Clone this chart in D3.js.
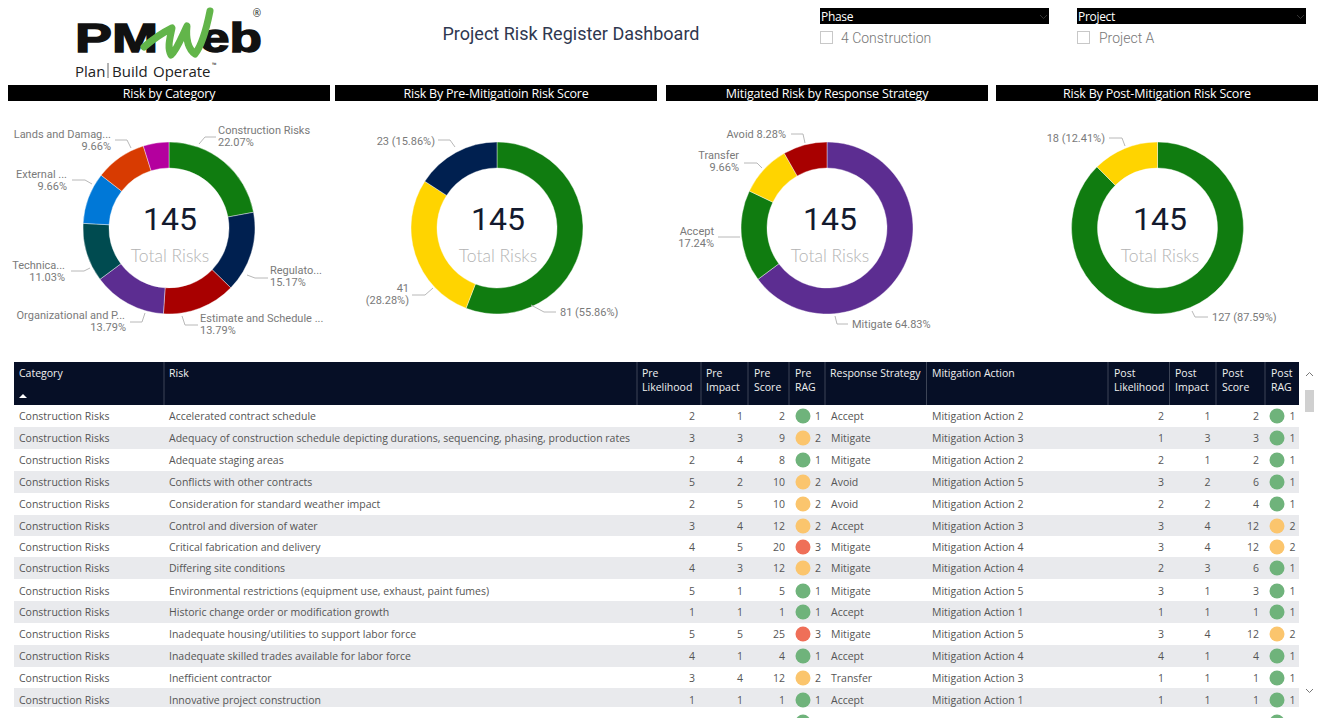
<!DOCTYPE html>
<html><head><meta charset="utf-8"><title>Project Risk Register Dashboard</title>
<script src="https://cdn.jsdelivr.net/npm/d3@7/dist/d3.min.js"></script>
<style>html,body{margin:0;padding:0;background:#fff;overflow:hidden}svg{display:block}</style>
</head><body><div id="chart"></div>
<script>
// ---------- chart data ----------
const categoryNames = ["Construction Risks","Regulatory","Estimate and Schedule","Organizational and Project","Technical","External","Lands and Damages","Other"];
const categoryCounts = [32,22,20,20,16,14,14,7];
const preScoreNames = ["1","2","3"];
const preScoreCounts = [81,41,23];
const strategyNames = ["Mitigate","Accept","Transfer","Avoid"];
const strategyCounts = [94,25,14,12];
const postScoreNames = ["1","2"];
const postScoreCounts = [127,18];

const rowCategory = Array(14).fill("Construction Risks");
const rowRisk = ["Accelerated contract schedule","Adequacy of construction schedule depicting durations, sequencing, phasing, production rates","Adequate staging areas","Conflicts with other contracts","Consideration for standard weather impact","Control and diversion of water","Critical fabrication and delivery","Differing site conditions","Environmental restrictions (equipment use, exhaust, paint fumes)","Historic change order or modification growth","Inadequate housing/utilities to support labor force","Inadequate skilled trades available for labor force","Inefficient contractor","Innovative project construction"];
const preLikelihood = [2,3,2,5,2,3,4,4,5,1,5,4,3,1];
const preImpact = [1,3,4,2,5,4,5,3,1,1,5,1,4,1];
const preScore = [2,9,8,10,10,12,20,12,5,1,25,4,12,1];
const preRag = [1,2,1,2,2,2,3,2,1,1,3,1,2,1];
const responseStrategy = ["Accept","Mitigate","Mitigate","Avoid","Avoid","Accept","Mitigate","Mitigate","Mitigate","Accept","Mitigate","Accept","Transfer","Accept"];
const mitigationAction = [2,3,2,5,2,3,4,4,5,1,5,4,3,1].map(n=>"Mitigation Action "+n);
const postLikelihood = [2,1,2,3,2,3,3,2,3,1,3,4,1,1];
const postImpact = [1,3,1,2,2,4,4,3,1,1,4,1,1,1];
const postScore = [2,3,2,6,4,12,12,6,3,1,12,4,1,1];
const postRag = [1,1,1,1,1,2,2,1,1,1,2,1,1,1];
// first row below the fold: only the tops of its two status dots are visible
const nextRowPreRag = 1, nextRowPostRag = 1;

const headers = [["Category"],["Risk"],["Pre","Likelihood"],["Pre","Impact"],["Pre","Score"],["Pre","RAG"],["Response Strategy"],["Mitigation Action"],["Post","Likelihood"],["Post","Impact"],["Post","Score"],["Post","RAG"]];
const totalLabel = "Total Risks";
const panelTitles = ["Risk by Category","Risk By Pre-Mitigatioin Risk Score","Mitigated Risk by Response Strategy","Risk By Post-Mitigation Risk Score"];

// ---------- layout ----------
const W=1320,H=718;
const FONT_UI='"Open Sans","Noto Sans",sans-serif', FONT_D='Roboto,"Noto Sans",sans-serif';
const svg=d3.select("#chart").append("svg").attr("width",W).attr("height",H).attr("viewBox",`0 0 ${W} ${H}`);
const txt=(g,x,y,s,o={})=>g.append("text").attr("x",x).attr("y",y).attr("text-anchor",o.a||"start").attr("dominant-baseline","central")
  .attr("font-family",o.f||FONT_UI).attr("font-size",o.s||11).attr("font-weight",o.w||400).attr("fill",o.c||"#666")
  .attr("letter-spacing",o.ls||null).text(s);

// logo
const logo=svg.append("g").attr("class","logo");
const bigT=(x,s,len)=>logo.append("text").attr("x",x).attr("y",52).attr("font-family","Liberation Sans").attr("font-weight",700)
  .attr("font-size",40).attr("fill","#111").attr("stroke","#111").attr("stroke-width",1.4).attr("textLength",len).attr("lengthAdjust","spacingAndGlyphs").text(s);
bigT(75,"PM",83); bigT(200,"eb",62);
logo.append("path").attr("d","M144 47 C152 40 162 33 172 28 C170 38 167 48 171 55 C177 50 182 36 187 26 C186 36 187 48 195 54 C203 44 207 26 210 11")
  .attr("fill","none").attr("stroke","#62b54a").attr("stroke-width",7).attr("stroke-linejoin","round").attr("stroke-linecap","round");
txt(logo,75,71,"Plan",{s:15,c:"#222",f:FONT_UI});
logo.append("line").attr("x1",108).attr("x2",108).attr("y1",63).attr("y2",78).attr("stroke","#666");
txt(logo,112,71,"Build",{s:15,c:"#222"});
txt(logo,153,71,"Operate",{s:15,c:"#222"});
txt(logo,212,65,"™",{s:6,c:"#222"});
txt(logo,257,13,"®",{s:10,c:"#222",a:"middle"});

txt(svg,571,33,"Project Risk Register Dashboard",{a:"middle",s:18,c:"#2f3850",f:FONT_D,w:400});

// slicers
const slicerTitles=["Phase","Project"], slicerValues=["4 Construction","Project A"];
[[820,229,841],[1077,229,1099]].forEach(([x,w,tx],i)=>{
  svg.append("rect").attr("x",x).attr("y",8).attr("width",w).attr("height",16).attr("fill","#000");
  txt(svg,x+1,16.5,slicerTitles[i],{c:"#fff",s:12,ls:-.3});
  svg.append("path").attr("d",`M${x+w-9} 15l3.5 3.5l3.5-3.5`).attr("fill","none").attr("stroke","#333");
  svg.append("rect").attr("x",x+.5).attr("y",31.5).attr("width",12).attr("height",12).attr("fill","#fff").attr("stroke","#c8c8c8");
  txt(svg,tx,38,slicerValues[i],{s:14,c:"#777",f:FONT_D,w:300});
});

// panel title bars
[[8,322],[335,322],[666,322],[996,322]].forEach(([x,w],i)=>{
  svg.append("rect").attr("x",x).attr("y",85).attr("width",w).attr("height",16).attr("fill","#000");
  txt(svg,x+w/2,93.5,panelTitles[i],{a:"middle",c:"#fff",s:12.5,ls:-.2});
});

// donuts
const colCategory=["#107c10","#002050","#a80000","#5c2d91","#004b50","#0078d7","#d83b01","#b4009e"];
const colScore=["#107c10","#ffd400","#002050"];
const colStrategy=["#5c2d91","#107c10","#ffd400","#a80000"];
const colPost=["#107c10","#ffd400"];
const pct=v=>(v/145*100).toFixed(2)+"%";

const donuts=[
 {cx:169,tx:170,names:categoryNames,vals:categoryCounts,cols:colCategory,labels:[
  {l:["Construction Risks",pct(32)],x:218,y:130,a:"start",p:[[199,144],[205,137],[216,137]]},
  {l:["Regulato...",pct(22)],x:270,y:270,a:"start",p:[[247,275],[255,278],[268,278]]},
  {l:["Estimate and Schedule ...",pct(20)],x:200,y:318,a:"start",p:[[182,316],[185,325],[198,325]]},
  {l:["Organizational and P...",pct(20)],x:125,y:315,x2:126,a:"end",p:[[145,313],[142,322],[130,322]]},
  {l:["Technica...",pct(16)],x:65,y:265,a:"end",p:[[90,268],[84,271],[71,271]]},
  {l:["External ...",pct(14)],x:67,y:174,a:"end",p:[[92,184],[85,180],[72,180]]},
  {l:["Lands and Damag...",pct(14)],x:111,y:134,a:"end",p:[[131,148],[127,140],[115,140]]}]},
 {cx:497,tx:498,names:preScoreNames,vals:preScoreCounts,cols:colScore,labels:[
  {l:["81 (55.86%)"],x:560,y:312,a:"start",p:[[531,305],[544,312],[556,312]]},
  {l:["41","(28.28%)"],x:409,y:288,a:"end",p:[[433,288],[425,295],[412,295]]},
  {l:["23 (15.86%)"],x:435,y:141,a:"end",p:[[455,147],[450,140],[438,140]]}]},
 {cx:827,tx:830,names:strategyNames,vals:strategyCounts,cols:colStrategy,labels:[
  {l:["Mitigate 64.83%"],x:852,y:324,a:"start",p:[[835,316],[837,324],[848,324]]},
  {l:["Accept","17.24%"],x:714,y:231,a:"end",p:[[740,237],[728,237],[718,237]]},
  {l:["Transfer","9.66%"],x:739,y:155,a:"end",p:[[762,168],[757,163],[744,163]]},
  {l:["Avoid 8.28%"],x:786,y:134,a:"end",p:[[805,143],[803,134],[791,134]]}]},
 {cx:1157.5,tx:1160,names:postScoreNames,vals:postScoreCounts,cols:colPost,labels:[
  {l:["127 (87.59%)"],x:1212,y:317,a:"start",p:[[1192,311],[1195,317],[1208,317]]},
  {l:["18 (12.41%)"],x:1105,y:138,a:"end",p:[[1125,146],[1122,138],[1109,138]]}]}
];
const CY=228,RO=86,RI=60;
const arc=d3.arc().innerRadius(RI).outerRadius(RO);
const pie=d3.pie().sort(null);
const leader=d3.line();
donuts.forEach(d=>{
  const g=svg.append("g").attr("transform",`translate(${d.cx},${CY})`);
  const color=d3.scaleOrdinal().domain(d.names).range(d.cols);
  g.selectAll("path").data(pie(d.vals)).join("path").attr("d",arc)
    .attr("fill",(p,i)=>color(d.names[i])).attr("stroke","#fff").attr("stroke-width",.4);
  d.labels.forEach(L=>{
    svg.append("path").attr("d",leader(L.p)).attr("fill","none").attr("stroke","#b8b8b8").attr("stroke-width",1);
    L.l.forEach((s,i)=>txt(svg,(i&&L.x2)||L.x,L.y+i*12.5,s,{a:L.a,s:11,c:"#7a7a7a",f:FONT_D}));
  });
  txt(svg,d.tx,CY-9,String(d3.sum(d.vals)),{a:"middle",s:32,c:"#131a2e",f:FONT_D,w:400});
  txt(svg,d.tx,CY+27,totalLabel,{a:"middle",s:17.5,c:"#b3b3b3",f:"Lato,Roboto,sans-serif",w:300});
});

// table
const colEdges=[14,164,637,701,748,789,825,926.5,1108,1169.5,1216,1265,1299];
const headX=[19,169,642,706,754,795,830,932,1114,1175,1222,1271];
const rowTops=[405,427,449,471,493,515,536,557,579,601,623,645,667,688,707];
const rowCenters=[416,438,460,482,504,526,547,568,591,612,634,656,678,700,722];
const y=d3.scaleOrdinal().domain(d3.range(15)).range(rowCenters);
const ragColor=d3.scaleOrdinal().domain([1,2,3]).range(["#6fb37b","#fbc56d","#ef6f58"]);
const table=svg.append("g");
svg.append("clipPath").attr("id","tc").append("rect").attr("x",0).attr("y",362).attr("width",W).attr("height",356);
table.attr("clip-path","url(#tc)");
// stripes
d3.range(1,14,2).forEach(i=>table.append("rect").attr("x",14).attr("y",rowTops[i]).attr("width",1285).attr("height",rowTops[i+1]-rowTops[i]).attr("fill","#e9eaed"));
// header
table.append("rect").attr("x",14).attr("y",362).attr("width",1285).attr("height",43).attr("fill","#060f26");
colEdges.slice(1,-1).forEach(x=>table.append("line").attr("x1",x).attr("x2",x).attr("y1",362).attr("y2",405).attr("stroke","#3c4456").attr("stroke-width",1));
headers.forEach((h,i)=>h.forEach((s,j)=>txt(table,headX[i],373+j*14,s,{c:"#f0f0f0",s:10.5})));
table.append("path").attr("d",d3.line()([[19,398],[27,398],[23,394]])+"Z").attr("fill","#fff");

const textCols=[[rowCategory,19],[rowRisk,169],[responseStrategy,831],[mitigationAction,932]];
textCols.forEach(([arr,x])=>arr.forEach((s,i)=>txt(table,x,y(i),s,{s:10.5,c:"#555"})));
const numCols=[[preLikelihood,695],[preImpact,743],[preScore,785],[postLikelihood,1164],[postImpact,1210.5],[postScore,1259]];
numCols.forEach(([arr,x])=>arr.forEach((v,i)=>txt(table,x,y(i),v,{a:"end",s:10.5,c:"#555"})));
[[preRag,803,818,nextRowPreRag],[postRag,1277,1292.5,nextRowPostRag]].forEach(([arr,cx,nx,next])=>{
  table.append("g").selectAll("circle").data(arr.concat(next)).join("circle").attr("cx",cx).attr("cy",(v,i)=>y(i)).attr("r",7.5)
    .attr("fill",v=>ragColor(v));
  arr.forEach((v,i)=>txt(table,nx,y(i),v,{a:"middle",s:10.5,c:"#555"}));
});

// scrollbar
svg.append("rect").attr("x",1305).attr("y",390).attr("width",9).attr("height",22).attr("fill","#d0d0d0");
svg.append("path").attr("d","M1306 376l3.5-3.5l3.5 3.5M1306 689l3.5 3.5l3.5-3.5").attr("fill","none").attr("stroke","#777");
</script></body></html>
